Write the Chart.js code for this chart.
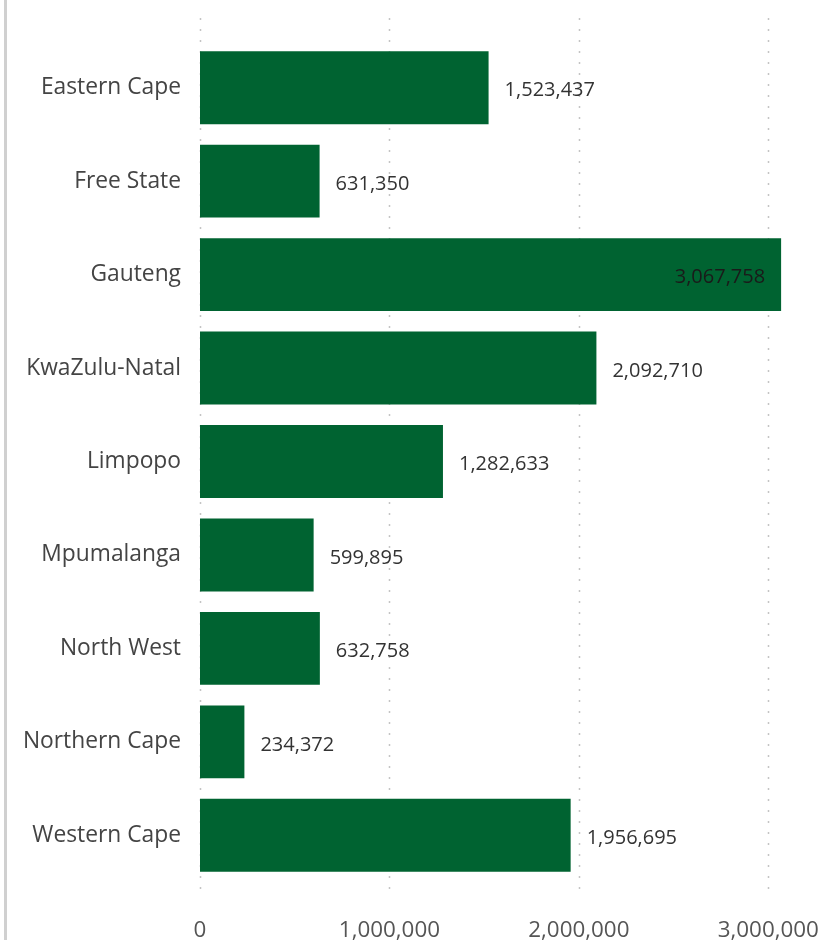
<!DOCTYPE html>
<html>
<head>
<meta charset="utf-8">
<script src="https://cdn.jsdelivr.net/npm/chart.js@4"></script>
<style>
  body { margin: 0; background: #fff; }
  #wrap { position: relative; width: 836px; height: 940px; }
  #edge { position: absolute; left: 4px; top: 0; width: 3px; height: 940px; background: #d0d0d0; }
</style>
</head>
<body>
<div id="wrap">
  <div id="edge"></div>
  <canvas id="provinceChart" width="836" height="940"></canvas>
</div>
<script>
const provinces = ["Eastern Cape", "Free State", "Gauteng", "KwaZulu-Natal", "Limpopo",
  "Mpumalanga", "North West", "Northern Cape", "Western Cape"];
const totals = [1523437, 631350, 3067758, 2092710, 1282633, 599895, 632758, 234372, 1956695];
const xTicks = [0, 1000000, 2000000, 3000000];

const fontFamily = "'Open Sans', 'Noto Sans', sans-serif";

// dotted vertical gridlines, reaching a bit above the first bar
const dottedGrid = {
  id: "dottedGrid",
  beforeDatasetsDraw(chart) {
    const ctx = chart.ctx;
    const x = chart.scales.x;
    ctx.save();
    ctx.strokeStyle = "#c4c4c4";
    ctx.lineWidth = 1.5;
    ctx.setLineDash([2, 9]);
    xTicks.forEach(function (v) {
      const px = Math.round(x.getPixelForValue(v)) + 0.5;
      ctx.beginPath();
      ctx.moveTo(px, 18);
      ctx.lineTo(px, chart.chartArea.bottom + 8);
      ctx.stroke();
    });
    ctx.restore();
  }
};

// value labels at the end of each bar (inside when it doesn't fit)
const valueLabels = {
  id: "valueLabels",
  afterDatasetsDraw(chart) {
    const ctx = chart.ctx;
    const meta = chart.getDatasetMeta(0);
    ctx.save();
    ctx.font = "20px " + fontFamily;
    ctx.textBaseline = "middle";
    meta.data.forEach(function (bar, i) {
      const text = totals[i].toLocaleString("en-US");
      const w = ctx.measureText(text).width;
      if (bar.x + 16 + w > chart.width - 10) {
        ctx.fillStyle = "#1a1a1a";
        ctx.textAlign = "right";
        ctx.fillText(text, bar.x - 16, bar.y + 3);
      } else {
        ctx.fillStyle = "#333333";
        ctx.textAlign = "left";
        ctx.fillText(text, bar.x + 16, bar.y + 3);
      }
    });
    ctx.restore();
  }
};

new Chart(document.getElementById("provinceChart"), {
  type: "bar",
  data: {
    labels: provinces,
    datasets: [{
      data: totals,
      backgroundColor: "#006331",
      borderWidth: 0,
      categoryPercentage: 0.78,
      barPercentage: 1.0
    }]
  },
  options: {
    indexAxis: "y",
    responsive: false,
    animation: false,
    layout: { padding: { top: 41, right: 9, left: 0, bottom: 0 } },
    plugins: {
      legend: { display: false },
      tooltip: { enabled: false }
    },
    scales: {
      x: {
        min: 0,
        max: 3310000,
        grid: { display: false, drawTicks: false },
        border: { display: false },
        afterBuildTicks(scale) {
          scale.ticks = xTicks.map((v) => ({ value: v }));
        },
        afterFit(scale) {
          scale.height = 58;
          scale.paddingLeft = 0;
          scale.paddingRight = 0;
        },
        ticks: {
          padding: 35,
          color: "#555555",
          font: { family: fontFamily, size: 22.4 },
          maxRotation: 0,
          callback: (v) => Number(v).toLocaleString("en-US")
        }
      },
      y: {
        grid: { display: false, drawTicks: false },
        border: { display: false },
        afterFit(scale) { scale.width = 200; },
        ticks: {
          padding: 19,
          color: "#444444",
          font: { family: fontFamily, size: 22.8 }
        }
      }
    }
  },
  plugins: [dottedGrid, valueLabels]
});
</script>
</body>
</html>
